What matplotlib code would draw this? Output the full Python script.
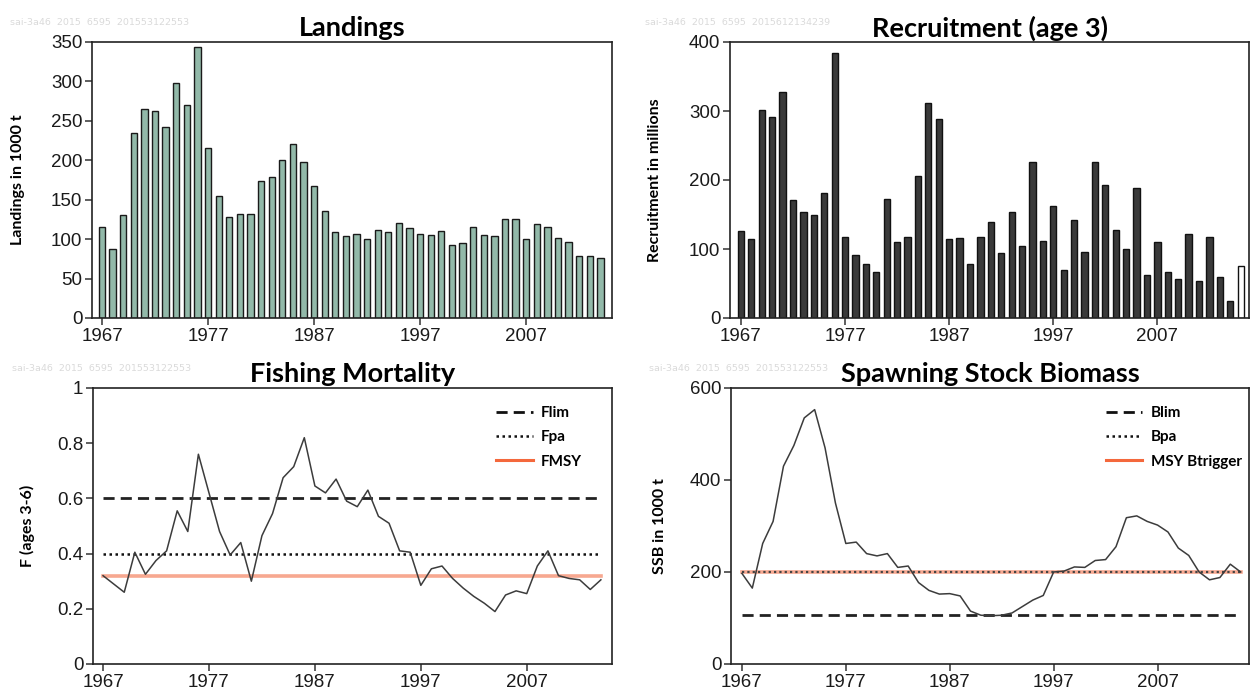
import matplotlib
matplotlib.use("Agg")
import matplotlib.pyplot as plt
from matplotlib.lines import Line2D
import numpy as np

# landings 1967-2014 (1000 t)
land_years = np.arange(1967, 2015)
landings = [115, 88, 130, 235, 265, 262, 242, 298, 270, 344,
            216, 155, 128, 132, 132, 174, 179, 200, 221, 198,
            167, 136, 109, 104, 107, 100, 111, 109, 121, 114,
            107, 105, 110, 92, 95, 116, 105, 104, 125, 125,
            100, 119, 116, 102, 97, 78, 79, 76]

# recruitment age 3, 1967-2015 (millions), last year is an assumption
rec_years = np.arange(1967, 2016)
recruitment = [126, 114, 302, 291, 328, 171, 153, 149, 181, 384,
               118, 92, 78, 66, 173, 110, 118, 206, 312, 289,
               114, 116, 78, 118, 139, 94, 153, 104, 226, 112,
               163, 70, 142, 96, 226, 193, 128, 100, 189, 63,
               110, 66, 56, 122, 53, 118, 60, 25, 76]

# fishing mortality ages 3-6, 1967-2014
f_years = np.arange(1967, 2015)
fbar = [0.32, 0.29, 0.26, 0.405, 0.325, 0.375, 0.41, 0.555, 0.48, 0.76,
        0.62, 0.48, 0.395, 0.44, 0.30, 0.465, 0.545, 0.675, 0.715, 0.82,
        0.645, 0.62, 0.67, 0.59, 0.57, 0.63, 0.535, 0.51, 0.41, 0.405,
        0.285, 0.345, 0.355, 0.31, 0.275, 0.245, 0.22, 0.19, 0.25, 0.265,
        0.255, 0.355, 0.41, 0.32, 0.31, 0.305, 0.27, 0.305]
Flim, Fpa, FMSY = 0.6, 0.4, 0.32

# ssb 1967-2015 (1000 t)
ssb_years = np.arange(1967, 2016)
ssb = [197, 165, 262, 310, 430, 475, 535, 553, 470, 350,
       262, 265, 240, 235, 240, 210, 213, 177, 160, 152,
       153, 148, 115, 106, 105, 106, 111, 125, 139, 149,
       200, 202, 211, 210, 225, 227, 255, 318, 322, 310,
       302, 287, 252, 236, 200, 183, 188, 217, 200]
Blim, Bpa, MSYBtrigger = 106, 200, 200

xticks = [1967, 1977, 1987, 1997, 2007]
stamp1 = "sai-3a46  2015  6595  201553122553"
stamp2 = "sai-3a46  2015  6595  2015612134239"

tick_font = ["Liberation Sans", "DejaVu Sans"]
head_font = ["Lato", "DejaVu Sans"]
orange_line = "#f7a890"
orange_leg = "#f4683c"

W, H = 1250, 696
fig = plt.figure(figsize=(12.5, 6.96), dpi=100)


def box(l, t, r, b):
    return [l / W, 1 - b / H, (r - l) / W, (b - t) / H]


def style_ax(ax, title, ylabel, lab_x, ylim, yticks, stamp, stamp_xy):
    for s in ax.spines.values():
        s.set_linewidth(1.2)
        s.set_color("#222222")
    ax.set_ylim(*ylim)
    ax.set_yticks(yticks)
    ax.set_xticks(xticks)
    ax.tick_params(direction="out", length=5, width=1.1, color="#333333",
                   labelsize=13.5, labelcolor="#1a1a1a", pad=2)
    for lab in ax.get_xticklabels() + ax.get_yticklabels():
        lab.set_family(tick_font)
    ax.set_title(title, fontsize=19.5, fontweight="bold",
                 family=head_font, pad=4)
    ax.set_ylabel(ylabel, fontsize=11.5, fontweight="bold",
                  family=head_font)
    ax.yaxis.set_label_coords(lab_x, 0.5)
    ax.text(stamp_xy[0], stamp_xy[1], stamp, transform=ax.transAxes,
            fontsize=6.8, color="#dadada", family=["DejaVu Sans"],
            va="center")


def ref_legend(ax, labels, x0):
    hs = [Line2D([], [], color="#111111", lw=2.0, dashes=(4, 2.2)),
          Line2D([], [], color="#111111", lw=1.8, dashes=(1, 1.4)),
          Line2D([], [], color=orange_leg, lw=2.2)]
    ax.legend(hs, labels, loc="upper left", bbox_to_anchor=(x0, 0.985),
              frameon=False, handlelength=2.4, handletextpad=0.55,
              labelspacing=0.68,
              prop={"family": head_font, "weight": "bold", "size": 11})


# Landings
ax1 = fig.add_axes(box(92, 42, 612, 318))
ax1.bar(land_years, landings, width=0.6, color="#92b9a9",
        edgecolor="#1a1a1a", linewidth=1.0)
ax1.set_xlim(1966.05, 2015.1)
style_ax(ax1, "Landings", "Landings in 1000 t", -0.129, (0, 350),
         range(0, 351, 50), stamp1, (-0.158, 1.072))

# Recruitment
ax2 = fig.add_axes(box(730, 42, 1249, 318))
colors = ["#3a3a3a"] * (len(rec_years) - 1) + ["white"]
ax2.bar(rec_years, recruitment, width=0.6, color=colors,
        edgecolor="#111111", linewidth=1.0)
ax2.set_xlim(1965.95, 2015.8)
style_ax(ax2, "Recruitment (age 3)", "Recruitment in millions", -0.131,
         (0, 400), range(0, 401, 100), stamp2, (-0.164, 1.072))

# Fishing mortality
ax3 = fig.add_axes(box(93, 388, 612, 664))
ax3.plot([f_years[0], f_years[-1]], [FMSY, FMSY], color=orange_line, lw=2.6)
ax3.plot([f_years[0], f_years[-1]], [Flim, Flim], color="#222222", lw=2.0,
         dashes=(4, 2.2))
ax3.plot([f_years[0], f_years[-1]], [Fpa, Fpa], color="#111111", lw=1.8,
         dashes=(1, 1.4))
ax3.plot(f_years, fbar, color="#3c3c3c", lw=1.1)
ax3.set_xlim(1966.05, 2015.05)
style_ax(ax3, "Fishing Mortality", "F (ages 3-6)", -0.112, (0, 1),
         [0, 0.2, 0.4, 0.6, 0.8, 1], stamp1, (-0.156, 1.069))
ax3.set_yticklabels(["0", "0.2", "0.4", "0.6", "0.8", "1"])
for lab in ax3.get_yticklabels():
    lab.set_family(tick_font)
ref_legend(ax3, ["Flim", "Fpa", "FMSY"], 0.75)

# SSB
ax4 = fig.add_axes(box(731, 388, 1249, 664))
ax4.plot([ssb_years[0], ssb_years[-1]], [MSYBtrigger, MSYBtrigger],
         color=orange_line, lw=2.6)
ax4.plot([ssb_years[0], ssb_years[-1]], [Blim, Blim], color="#222222",
         lw=2.0, dashes=(4, 2.2))
ax4.plot([ssb_years[0], ssb_years[-1]], [Bpa, Bpa], color="#444444",
         lw=1.6, dashes=(1, 1.4))
ax4.plot(ssb_years, ssb, color="#3c3c3c", lw=1.1)
ax4.set_xlim(1965.95, 2015.8)
style_ax(ax4, "Spawning Stock Biomass", "SSB in 1000 t", -0.124, (0, 600),
         range(0, 601, 200), stamp1, (-0.158, 1.069))
ref_legend(ax4, ["Blim", "Bpa", "MSY Btrigger"], 0.697)

fig.savefig("out.png", dpi=100)
